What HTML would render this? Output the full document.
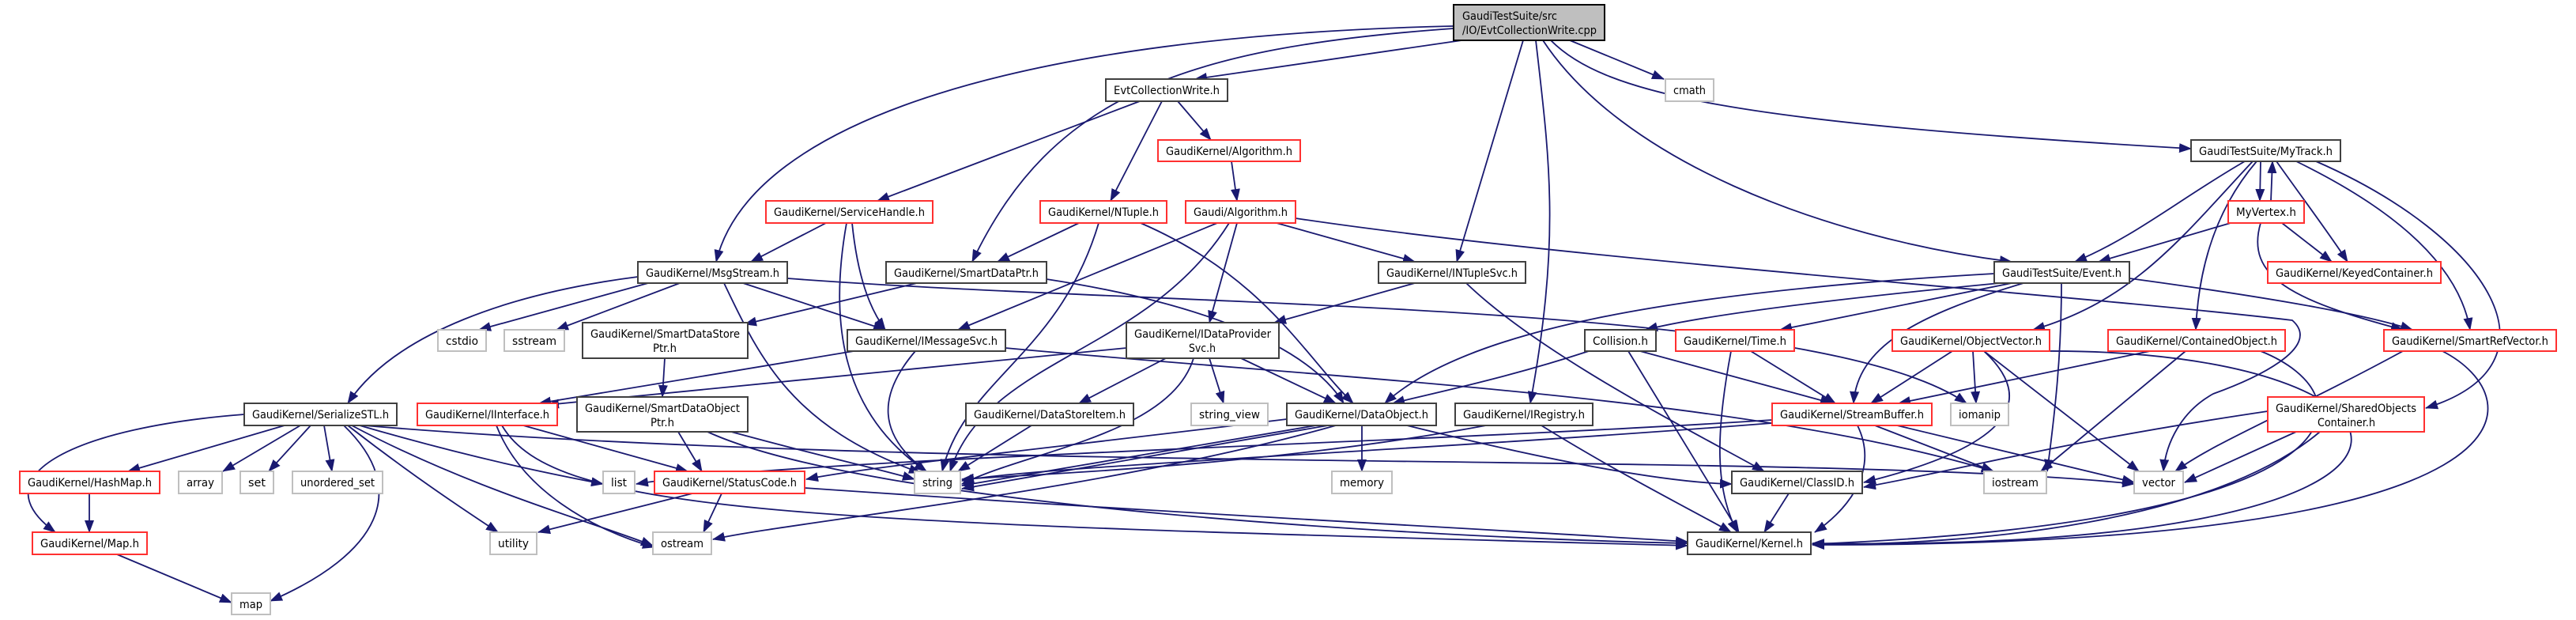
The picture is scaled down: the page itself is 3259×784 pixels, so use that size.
<!DOCTYPE html>
<html><head><meta charset="utf-8"><style>
html,body{margin:0;padding:0;background:#fff;}
svg{display:block;}
text{font-family:"DejaVu Sans","Liberation Sans",sans-serif;font-size:14px;fill:#000;}
.n{fill:#fff;stroke:#404040;stroke-width:2;}
.r{fill:#fff;stroke:#ff3030;stroke-width:2;}
.g{fill:#fff;stroke:#bfbfbf;stroke-width:2;}
.e{fill:none;stroke:#191970;stroke-width:1.8;marker-end:url(#a);}
</style></head><body>
<svg width="3259" height="784" viewBox="0 0 3259 784" xmlns="http://www.w3.org/2000/svg">
<defs><marker id="a" markerUnits="userSpaceOnUse" markerWidth="16" markerHeight="12" refX="15" refY="6" orient="auto"><path d="M0,0 L16,6 L0,12 z" fill="#191970"/></marker></defs>
<g>
<path class="e" d="M1870,48 L1512,100"/>
<path class="e" d="M1839,33 C1300,45 950,150 906,331"/>
<path class="e" d="M1839,36 C1500,60 1330,120 1230,331"/>
<path class="e" d="M1927,51 L1843,331"/>
<path class="e" d="M1943,51 C1960,200 1975,300 1936,510"/>
<path class="e" d="M1952,51 C2050,200 2300,300 2545,331"/>
<path class="e" d="M1962,51 C2030,120 2200,155 2772,188"/>
<path class="e" d="M1986,51 L2105,100"/>
<path class="e" d="M1442,128 L1110,254"/>
<path class="e" d="M1470,128 L1405,254"/>
<path class="e" d="M1490,128 L1532,177"/>
<path class="e" d="M1558,204 L1565,254"/>
<path class="e" d="M1045,282 L950,331"/>
<path class="e" d="M1078,282 C1085,350 1100,390 1120,417"/>
<path class="e" d="M1071,282 C1050,400 1060,520 1172,596"/>
<path class="e" d="M1365,282 L1262,331"/>
<path class="e" d="M1390,282 C1340,450 1220,480 1192,596"/>
<path class="e" d="M1443,282 C1600,350 1650,450 1712,510"/>
<path class="e" d="M1540,282 L1212,417"/>
<path class="e" d="M1565,282 L1530,408"/>
<path class="e" d="M1615,282 L1790,331"/>
<path class="e" d="M1555,282 C1450,450 1250,450 1202,596"/>
<path class="e" d="M1639,276 C2000,330 2600,370 2900,405 C2940,440 2850,480 2800,498 C2760,520 2740,560 2737,596"/>
<path class="e" d="M807,350 C650,370 500,420 440,510"/>
<path class="e" d="M820,358 L606,417"/>
<path class="e" d="M860,358 L704,417"/>
<path class="e" d="M940,358 L1120,417"/>
<path class="e" d="M916,358 C960,450 1000,540 1165,598"/>
<path class="e" d="M996,352 C1500,390 2300,380 2488,510"/>
<path class="e" d="M1160,358 L942,410"/>
<path class="e" d="M1324,353 C1500,380 1650,430 1700,510"/>
<path class="e" d="M841,453 L838,502"/>
<path class="e" d="M1080,444 L682,510"/>
<path class="e" d="M1158,444 C1110,500 1110,550 1172,596"/>
<path class="e" d="M1272,440 C1700,480 2200,500 2522,596"/>
<path class="e" d="M1425,440 L692,512"/>
<path class="e" d="M1475,453 L1365,510"/>
<path class="e" d="M1530,453 L1548,510"/>
<path class="e" d="M1570,453 L1690,510"/>
<path class="e" d="M1510,453 C1480,550 1300,570 1217,612"/>
<path class="e" d="M1790,358 L1612,408"/>
<path class="e" d="M1855,358 C1950,450 2150,550 2232,596"/>
<path class="e" d="M360,538 L162,596"/>
<path class="e" d="M380,538 L282,596"/>
<path class="e" d="M393,538 L340,596"/>
<path class="e" d="M410,538 L420,596"/>
<path class="e" d="M309,524 C100,540 -30,600 70,673"/>
<path class="e" d="M435,538 C520,620 480,700 342,760"/>
<path class="e" d="M440,538 C520,600 580,640 630,673"/>
<path class="e" d="M445,538 C600,620 750,660 826,690"/>
<path class="e" d="M455,538 C600,580 700,600 763,612"/>
<path class="e" d="M460,538 C1200,600 2300,570 2700,612"/>
<path class="e" d="M113,624 L113,673"/>
<path class="e" d="M148,701 L293,762"/>
<path class="e" d="M662,538 L870,596"/>
<path class="e" d="M628,538 C660,620 750,670 828,692"/>
<path class="e" d="M635,538 C700,650 1000,660 2135,690"/>
<path class="e" d="M858,546 L888,596"/>
<path class="e" d="M925,546 C1050,580 1100,590 1157,606"/>
<path class="e" d="M895,546 C1100,640 1800,680 2135,687"/>
<path class="e" d="M876,624 L681,673"/>
<path class="e" d="M913,624 L890,673"/>
<path class="e" d="M1018,617 C1500,650 1900,670 2135,685"/>
<path class="e" d="M1305,538 L1212,596"/>
<path class="e" d="M1665,538 L1217,614"/>
<path class="e" d="M1680,538 L1217,618"/>
<path class="e" d="M1723,538 L1723,596"/>
<path class="e" d="M1690,538 C1400,620 1000,660 902,682"/>
<path class="e" d="M1780,538 C1950,580 2100,610 2191,612"/>
<path class="e" d="M1628,530 C1300,570 1100,590 1020,606"/>
<path class="e" d="M1880,538 C1600,590 1300,600 1217,606"/>
<path class="e" d="M1950,538 C2050,600 2150,650 2190,673"/>
<path class="e" d="M2523,346 C2100,370 1850,420 1752,510"/>
<path class="e" d="M2530,358 C2300,380 2150,400 2082,417"/>
<path class="e" d="M2545,358 L2252,417"/>
<path class="e" d="M2560,358 C2420,400 2350,440 2345,510"/>
<path class="e" d="M2694,352 C2900,380 3000,400 3052,417"/>
<path class="e" d="M2608,358 C2608,450 2600,520 2590,596"/>
<path class="e" d="M2840,204 C2760,250 2700,300 2625,331"/>
<path class="e" d="M2860,204 L2859,254"/>
<path class="e" d="M2880,204 C2920,260 2950,300 2970,331"/>
<path class="e" d="M2850,204 C2760,300 2700,380 2572,417"/>
<path class="e" d="M2855,204 C2790,280 2780,370 2778,417"/>
<path class="e" d="M2905,204 C3020,260 3110,330 3125,417"/>
<path class="e" d="M2930,204 C3150,300 3250,460 3069,516"/>
<path class="e" d="M2873,254 L2875,204"/>
<path class="e" d="M2822,282 L2655,331"/>
<path class="e" d="M2887,282 L2950,331"/>
<path class="e" d="M2860,282 C2840,350 2900,380 3040,417"/>
<path class="e" d="M2010,444 C1900,480 1800,500 1762,510"/>
<path class="e" d="M2075,444 L2318,510"/>
<path class="e" d="M2060,444 L2200,673"/>
<path class="e" d="M2215,444 L2322,510"/>
<path class="e" d="M2190,444 C2170,550 2170,620 2198,673"/>
<path class="e" d="M2470,444 L2367,510"/>
<path class="e" d="M2496,444 L2500,510"/>
<path class="e" d="M2510,444 L2706,596"/>
<path class="e" d="M2510,444 C2570,500 2560,560 2358,610"/>
<path class="e" d="M2585,444 C3100,440 3200,700 2293,687"/>
<path class="e" d="M2720,444 L2402,510"/>
<path class="e" d="M2765,444 L2582,596"/>
<path class="e" d="M2860,444 C3000,500 3000,660 2293,688"/>
<path class="e" d="M3040,444 C2900,520 2800,560 2752,596"/>
<path class="e" d="M3090,444 C3200,500 3250,690 2293,689"/>
<path class="e" d="M2905,546 L2764,610"/>
<path class="e" d="M2869,520 C2600,560 2500,590 2358,616"/>
<path class="e" d="M2935,546 C2800,660 2500,690 2293,688"/>
<path class="e" d="M2242,531 C1800,560 1000,580 805,612"/>
<path class="e" d="M2242,535 C1800,570 1300,590 1217,608"/>
<path class="e" d="M2400,538 L2700,610"/>
<path class="e" d="M2372,538 L2522,596"/>
<path class="e" d="M2350,538 C2380,600 2330,650 2296,673"/>
<path class="e" d="M2263,624 L2232,673"/>
</g>
<g>
<rect x="1839" y="6" width="191" height="45" fill="#bfbfbf" stroke="#000" stroke-width="2"/>
<text x="1850" y="25" textLength="120" lengthAdjust="spacingAndGlyphs">GaudiTestSuite/src</text>
<text x="1850" y="43" textLength="170" lengthAdjust="spacingAndGlyphs">/IO/EvtCollectionWrite.cpp</text>
<rect class="n" x="1399" y="100" width="154" height="28"/><text x="1409" y="119" textLength="134" lengthAdjust="spacingAndGlyphs">EvtCollectionWrite.h</text>
<rect class="g" x="2107" y="100" width="61" height="28"/><text x="2117" y="119" textLength="41" lengthAdjust="spacingAndGlyphs">cmath</text>
<rect class="r" x="1465" y="177" width="180" height="27"/><text x="1475" y="196" textLength="160" lengthAdjust="spacingAndGlyphs">GaudiKernel/Algorithm.h</text>
<rect class="n" x="2772" y="177" width="189" height="27"/><text x="2782" y="196" textLength="169" lengthAdjust="spacingAndGlyphs">GaudiTestSuite/MyTrack.h</text>
<rect class="r" x="969" y="254" width="211" height="28"/><text x="979" y="273" textLength="191" lengthAdjust="spacingAndGlyphs">GaudiKernel/ServiceHandle.h</text>
<rect class="r" x="1316" y="254" width="160" height="28"/><text x="1326" y="273" textLength="140" lengthAdjust="spacingAndGlyphs">GaudiKernel/NTuple.h</text>
<rect class="r" x="1500" y="254" width="139" height="28"/><text x="1510" y="273" textLength="119" lengthAdjust="spacingAndGlyphs">Gaudi/Algorithm.h</text>
<rect class="r" x="2819" y="254" width="96" height="28"/><text x="2829" y="273" textLength="76" lengthAdjust="spacingAndGlyphs">MyVertex.h</text>
<rect class="n" x="807" y="331" width="189" height="27"/><text x="817" y="350" textLength="169" lengthAdjust="spacingAndGlyphs">GaudiKernel/MsgStream.h</text>
<rect class="n" x="1121" y="331" width="203" height="27"/><text x="1131" y="350" textLength="183" lengthAdjust="spacingAndGlyphs">GaudiKernel/SmartDataPtr.h</text>
<rect class="n" x="1744" y="331" width="186" height="27"/><text x="1754" y="350" textLength="166" lengthAdjust="spacingAndGlyphs">GaudiKernel/INTupleSvc.h</text>
<rect class="n" x="2523" y="331" width="171" height="27"/><text x="2533" y="350" textLength="151" lengthAdjust="spacingAndGlyphs">GaudiTestSuite/Event.h</text>
<rect class="r" x="2869" y="331" width="219" height="27"/><text x="2879" y="350" textLength="199" lengthAdjust="spacingAndGlyphs">GaudiKernel/KeyedContainer.h</text>
<rect class="g" x="554" y="417" width="61" height="27"/><text x="564" y="436" textLength="41" lengthAdjust="spacingAndGlyphs">cstdio</text>
<rect class="g" x="638" y="417" width="76" height="27"/><text x="648" y="436" textLength="56" lengthAdjust="spacingAndGlyphs">sstream</text>
<rect class="n" x="737" y="408" width="209" height="45"/><text x="747" y="427" textLength="189" lengthAdjust="spacingAndGlyphs">GaudiKernel/SmartDataStore</text><text x="826" y="445" textLength="30" lengthAdjust="spacingAndGlyphs">Ptr.h</text>
<rect class="n" x="1072" y="417" width="200" height="27"/><text x="1082" y="436" textLength="180" lengthAdjust="spacingAndGlyphs">GaudiKernel/IMessageSvc.h</text>
<rect class="n" x="1425" y="408" width="193" height="45"/><text x="1435" y="427" textLength="173" lengthAdjust="spacingAndGlyphs">GaudiKernel/IDataProvider</text><text x="1504" y="445" textLength="34" lengthAdjust="spacingAndGlyphs">Svc.h</text>
<rect class="n" x="2005" y="417" width="90" height="27"/><text x="2015" y="436" textLength="70" lengthAdjust="spacingAndGlyphs">Collision.h</text>
<rect class="r" x="2120" y="417" width="150" height="27"/><text x="2130" y="436" textLength="130" lengthAdjust="spacingAndGlyphs">GaudiKernel/Time.h</text>
<rect class="r" x="2394" y="417" width="199" height="27"/><text x="2404" y="436" textLength="179" lengthAdjust="spacingAndGlyphs">GaudiKernel/ObjectVector.h</text>
<rect class="r" x="2667" y="417" width="224" height="27"/><text x="2677" y="436" textLength="204" lengthAdjust="spacingAndGlyphs">GaudiKernel/ContainedObject.h</text>
<rect class="r" x="3016" y="417" width="218" height="27"/><text x="3026" y="436" textLength="198" lengthAdjust="spacingAndGlyphs">GaudiKernel/SmartRefVector.h</text>
<rect class="n" x="309" y="510" width="193" height="28"/><text x="319" y="529" textLength="173" lengthAdjust="spacingAndGlyphs">GaudiKernel/SerializeSTL.h</text>
<rect class="r" x="528" y="510" width="177" height="28"/><text x="538" y="529" textLength="157" lengthAdjust="spacingAndGlyphs">GaudiKernel/IInterface.h</text>
<rect class="n" x="730" y="502" width="216" height="44"/><text x="740" y="521" textLength="196" lengthAdjust="spacingAndGlyphs">GaudiKernel/SmartDataObject</text><text x="823" y="539" textLength="30" lengthAdjust="spacingAndGlyphs">Ptr.h</text>
<rect class="n" x="1222" y="510" width="212" height="28"/><text x="1232" y="529" textLength="192" lengthAdjust="spacingAndGlyphs">GaudiKernel/DataStoreItem.h</text>
<rect class="g" x="1507" y="510" width="97" height="28"/><text x="1517" y="529" textLength="77" lengthAdjust="spacingAndGlyphs">string_view</text>
<rect class="n" x="1628" y="510" width="189" height="28"/><text x="1638" y="529" textLength="169" lengthAdjust="spacingAndGlyphs">GaudiKernel/DataObject.h</text>
<rect class="n" x="1841" y="510" width="174" height="28"/><text x="1851" y="529" textLength="154" lengthAdjust="spacingAndGlyphs">GaudiKernel/IRegistry.h</text>
<rect class="r" x="2242" y="510" width="202" height="28"/><text x="2252" y="529" textLength="182" lengthAdjust="spacingAndGlyphs">GaudiKernel/StreamBuffer.h</text>
<rect class="g" x="2468" y="510" width="73" height="28"/><text x="2478" y="529" textLength="53" lengthAdjust="spacingAndGlyphs">iomanip</text>
<rect class="r" x="2869" y="502" width="198" height="44"/><text x="2879" y="521" textLength="178" lengthAdjust="spacingAndGlyphs">GaudiKernel/SharedObjects</text><text x="2932" y="539" textLength="73" lengthAdjust="spacingAndGlyphs">Container.h</text>
<rect class="r" x="25" y="596" width="177" height="28"/><text x="35" y="615" textLength="157" lengthAdjust="spacingAndGlyphs">GaudiKernel/HashMap.h</text>
<rect class="g" x="226" y="596" width="55" height="28"/><text x="236" y="615" textLength="35" lengthAdjust="spacingAndGlyphs">array</text>
<rect class="g" x="304" y="596" width="42" height="28"/><text x="314" y="615" textLength="22" lengthAdjust="spacingAndGlyphs">set</text>
<rect class="g" x="370" y="596" width="114" height="28"/><text x="380" y="615" textLength="94" lengthAdjust="spacingAndGlyphs">unordered_set</text>
<rect class="g" x="763" y="596" width="40" height="28"/><text x="773" y="615" textLength="20" lengthAdjust="spacingAndGlyphs">list</text>
<rect class="r" x="828" y="596" width="190" height="28"/><text x="838" y="615" textLength="170" lengthAdjust="spacingAndGlyphs">GaudiKernel/StatusCode.h</text>
<rect class="g" x="1157" y="596" width="58" height="28"/><text x="1167" y="615" textLength="38" lengthAdjust="spacingAndGlyphs">string</text>
<rect class="g" x="1685" y="596" width="76" height="28"/><text x="1695" y="615" textLength="56" lengthAdjust="spacingAndGlyphs">memory</text>
<rect class="n" x="2191" y="596" width="165" height="28"/><text x="2201" y="615" textLength="145" lengthAdjust="spacingAndGlyphs">GaudiKernel/ClassID.h</text>
<rect class="g" x="2510" y="596" width="79" height="28"/><text x="2520" y="615" textLength="59" lengthAdjust="spacingAndGlyphs">iostream</text>
<rect class="g" x="2700" y="596" width="62" height="28"/><text x="2710" y="615" textLength="42" lengthAdjust="spacingAndGlyphs">vector</text>
<rect class="r" x="41" y="673" width="145" height="28"/><text x="51" y="692" textLength="125" lengthAdjust="spacingAndGlyphs">GaudiKernel/Map.h</text>
<rect class="g" x="620" y="673" width="59" height="28"/><text x="630" y="692" textLength="39" lengthAdjust="spacingAndGlyphs">utility</text>
<rect class="g" x="826" y="673" width="74" height="28"/><text x="836" y="692" textLength="54" lengthAdjust="spacingAndGlyphs">ostream</text>
<rect class="n" x="2135" y="673" width="156" height="28"/><text x="2145" y="692" textLength="136" lengthAdjust="spacingAndGlyphs">GaudiKernel/Kernel.h</text>
<rect class="g" x="293" y="750" width="49" height="27"/><text x="303" y="769" textLength="29" lengthAdjust="spacingAndGlyphs">map</text>
</g>
</svg>
</body></html>
